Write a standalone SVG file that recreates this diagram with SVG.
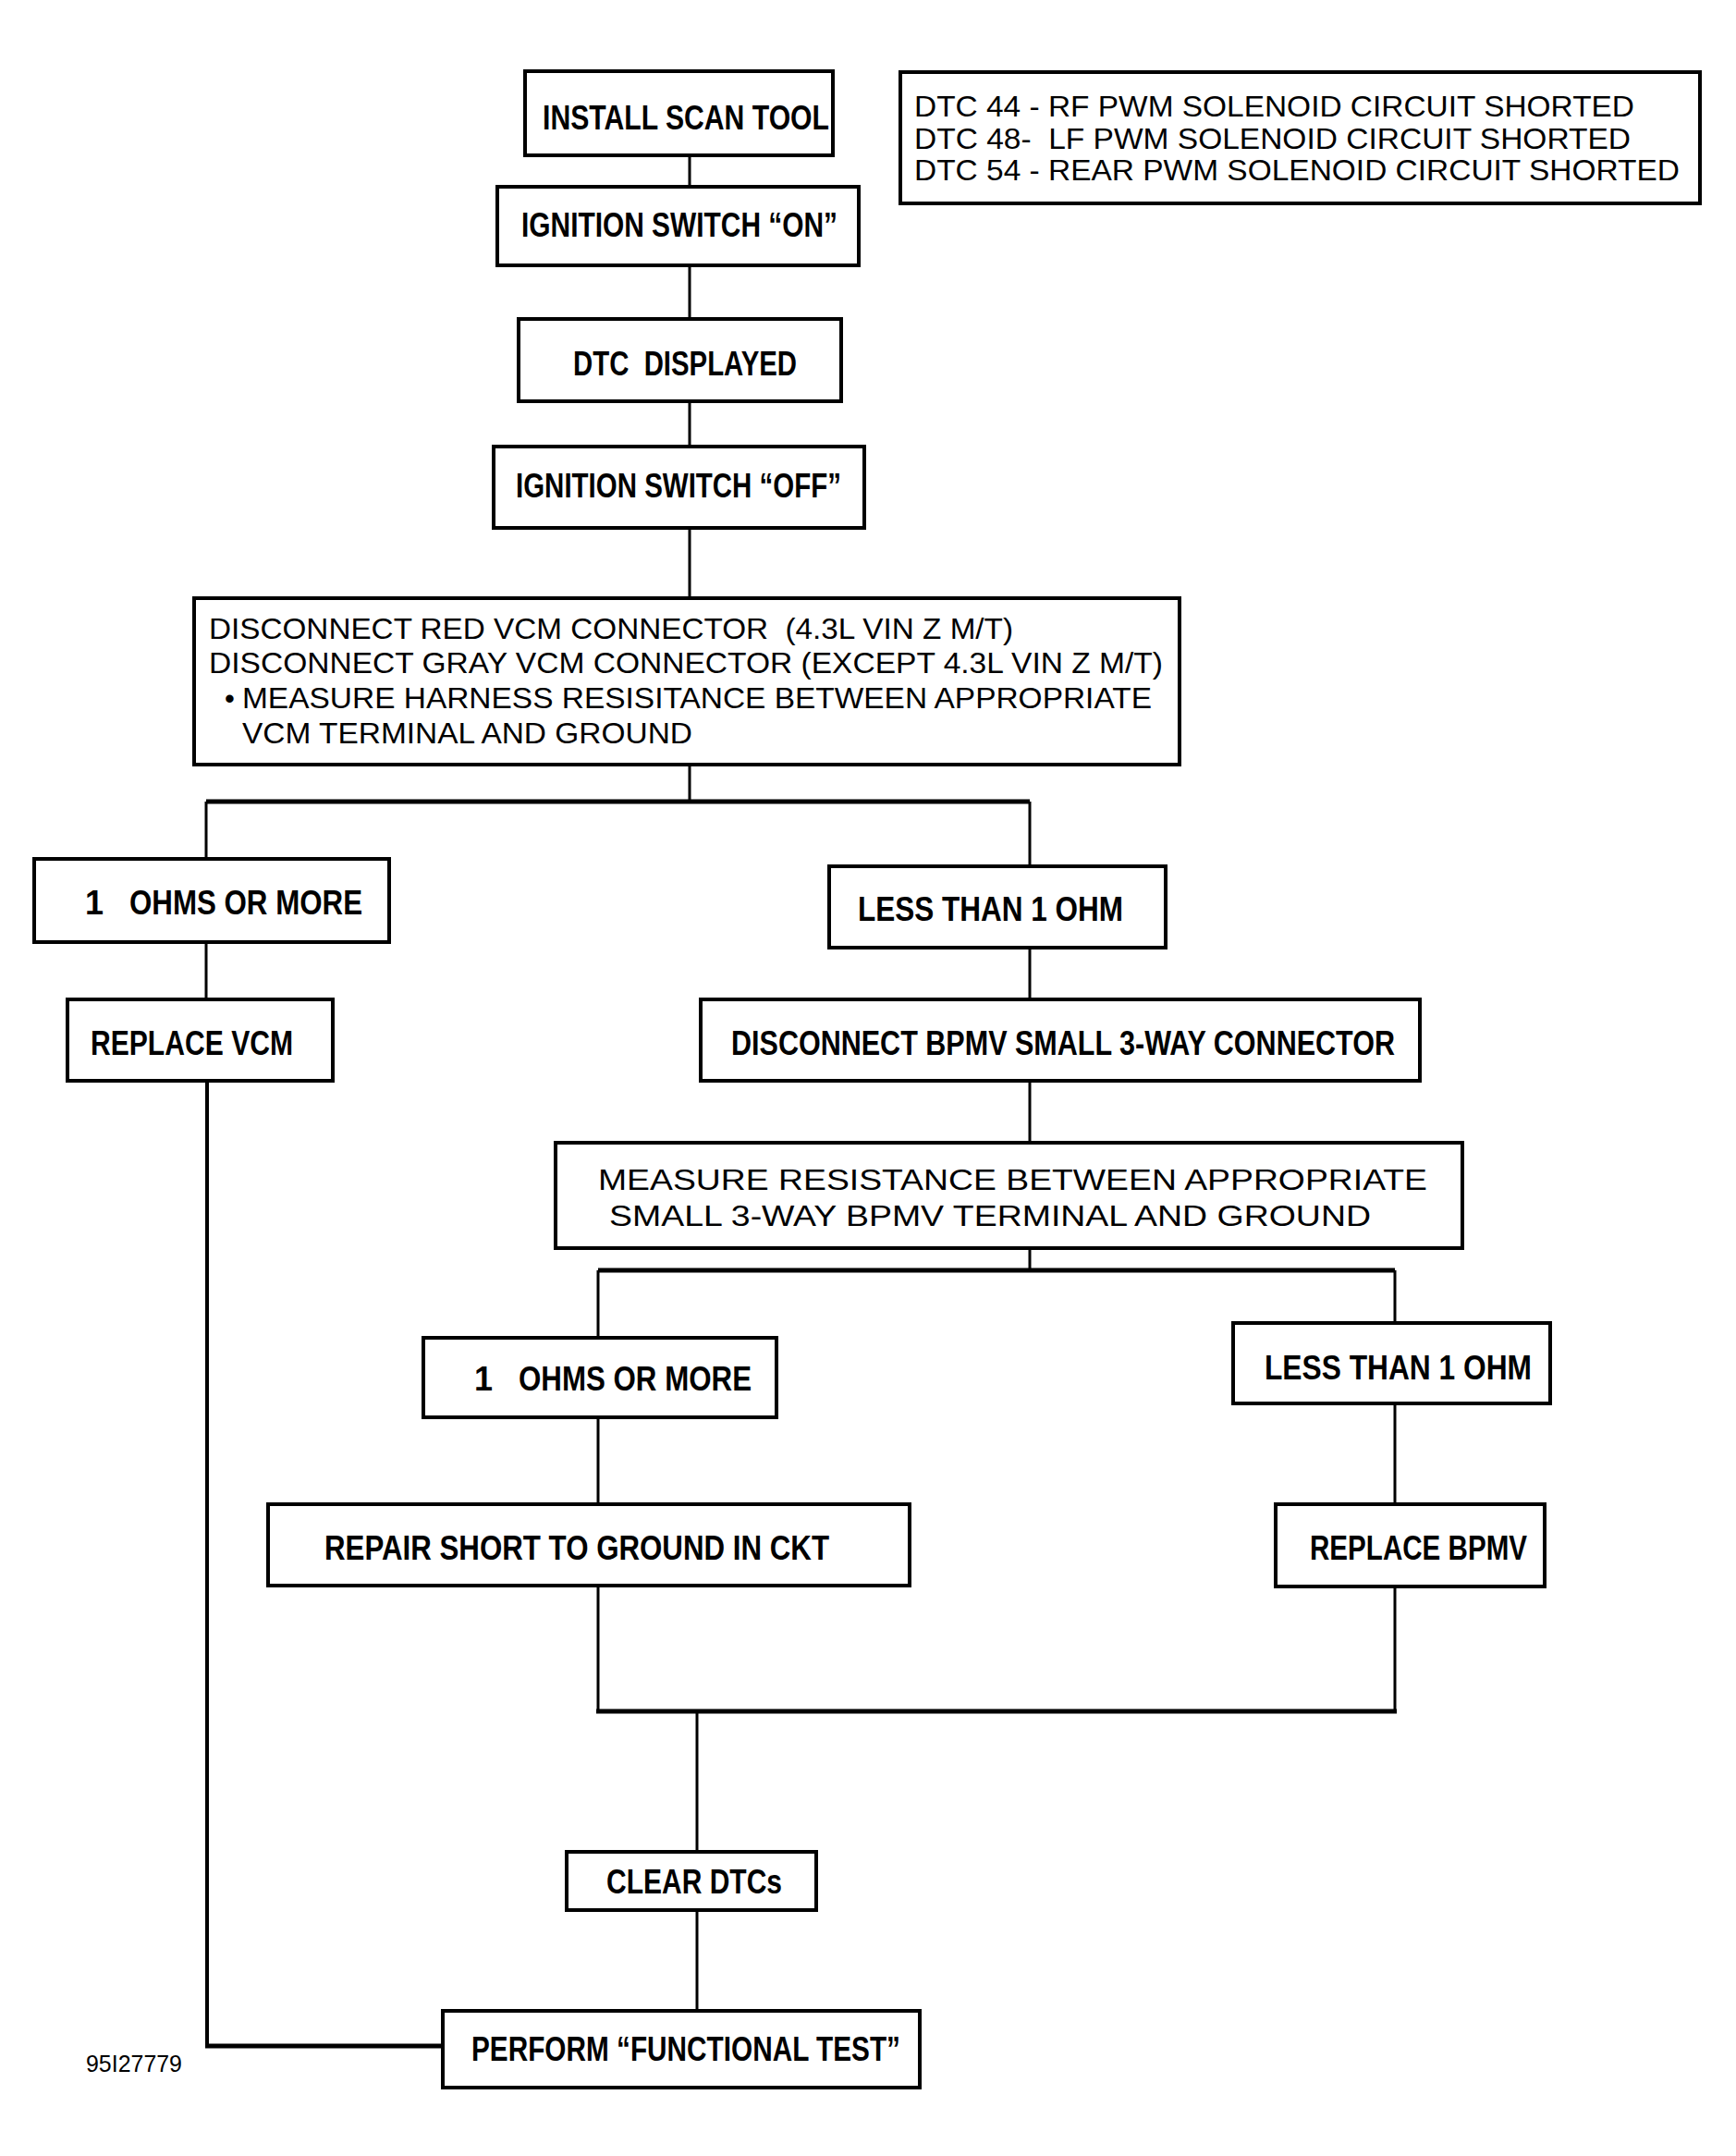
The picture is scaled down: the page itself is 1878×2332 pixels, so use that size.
<svg xmlns="http://www.w3.org/2000/svg" width="1878" height="2332" viewBox="0 0 1878 2332">
<style>
text{white-space:pre}
.box{fill:#fff;stroke:#000;stroke-width:4}
.b{font-family:"Liberation Sans",Arial,sans-serif;font-weight:bold;font-size:36px;fill:#000}
.n{font-family:"Liberation Sans",Arial,sans-serif;font-size:31px;fill:#000}
.w{stroke:#000;stroke-width:3;fill:none}
.h{stroke:#000;stroke-width:5;fill:none}
</style>
<rect width="1878" height="2332" fill="#fff"/>
<g id="connectors">
<path class="w" d="M746 168V202M746 287V345M746 434V483M746 571V647M746 827V867"/>
<path class="h" d="M223 867H1114"/>
<path class="w" d="M223 867V929M223 1019V1081"/>
<path class="w" d="M224 1169V2213" style="stroke-width:4"/>
<path class="h" d="M222 2213H479"/>
<path class="w" d="M1114 867V937M1114 1025V1081M1114 1169V1236M1114 1350V1374"/>
<path class="h" d="M647 1374H1509"/>
<path class="w" d="M647 1374V1447M647 1533V1627M647 1715V1851"/>
<path class="w" d="M1509 1374V1431M1509 1518V1627M1509 1716V1851"/>
<path class="h" d="M645 1851H1511"/>
<path class="w" d="M754 1851V2003M754 2066V2174"/>
</g>
<g id="dtc-list">
<rect class="box" x="974" y="78" width="865" height="142"/>
<text class="n" x="989" y="126" textLength="779" lengthAdjust="spacingAndGlyphs">DTC 44 - RF PWM SOLENOID CIRCUIT SHORTED</text>
<text class="n" x="989" y="161" textLength="775" lengthAdjust="spacingAndGlyphs">DTC 48-  LF PWM SOLENOID CIRCUIT SHORTED</text>
<text class="n" x="989" y="195" textLength="828" lengthAdjust="spacingAndGlyphs">DTC 54 - REAR PWM SOLENOID CIRCUIT SHORTED</text>
</g>
<g id="install-scan-tool">
<rect class="box" x="568" y="77" width="333" height="91"/>
<text class="b" x="587" y="140" textLength="310" lengthAdjust="spacingAndGlyphs">INSTALL SCAN TOOL</text>
</g>
<g id="ignition-on">
<rect class="box" x="538" y="202" width="391" height="85"/>
<text class="b" x="564" y="256" textLength="342" lengthAdjust="spacingAndGlyphs">IGNITION SWITCH “ON”</text>
</g>
<g id="dtc-displayed">
<rect class="box" x="561" y="345" width="349" height="89"/>
<text class="b" x="620" y="406" textLength="242" lengthAdjust="spacingAndGlyphs">DTC  DISPLAYED</text>
</g>
<g id="ignition-off">
<rect class="box" x="534" y="483" width="401" height="88"/>
<text class="b" x="558" y="538" textLength="352" lengthAdjust="spacingAndGlyphs">IGNITION SWITCH “OFF”</text>
</g>
<g id="disconnect-vcm">
<rect class="box" x="210" y="647" width="1066" height="180"/>
<text class="n" x="226" y="691" textLength="870" lengthAdjust="spacingAndGlyphs">DISCONNECT RED VCM CONNECTOR  (4.3L VIN Z M/T)</text>
<text class="n" x="226" y="728" textLength="1032" lengthAdjust="spacingAndGlyphs">DISCONNECT GRAY VCM CONNECTOR (EXCEPT 4.3L VIN Z M/T)</text>
<text class="n" x="243" y="766">•</text>
<text class="n" x="262" y="766" textLength="984" lengthAdjust="spacingAndGlyphs">MEASURE HARNESS RESISITANCE BETWEEN APPROPRIATE</text>
<text class="n" x="262" y="804" textLength="487" lengthAdjust="spacingAndGlyphs">VCM TERMINAL AND GROUND</text>
</g>
<g id="ohms-more-1">
<rect class="box" x="37" y="929" width="384" height="90"/>
<text class="b" y="989"><tspan x="92">1  </tspan><tspan x="140" textLength="252" lengthAdjust="spacingAndGlyphs">OHMS OR MORE</tspan></text>
</g>
<g id="less-than-1">
<rect class="box" x="897" y="937" width="364" height="88"/>
<text class="b" x="928" y="996" textLength="287" lengthAdjust="spacingAndGlyphs">LESS THAN 1 OHM</text>
</g>
<g id="replace-vcm">
<rect class="box" x="73" y="1081" width="287" height="88"/>
<text class="b" x="98" y="1141" textLength="219" lengthAdjust="spacingAndGlyphs">REPLACE VCM</text>
</g>
<g id="disconnect-bpmv">
<rect class="box" x="758" y="1081" width="778" height="88"/>
<text class="b" x="791" y="1141" textLength="718" lengthAdjust="spacingAndGlyphs">DISCONNECT BPMV SMALL 3-WAY CONNECTOR</text>
</g>
<g id="measure-bpmv">
<rect class="box" x="601" y="1236" width="981" height="114"/>
<text class="n" x="647" y="1287" textLength="897" lengthAdjust="spacingAndGlyphs">MEASURE RESISTANCE BETWEEN APPROPRIATE</text>
<text class="n" x="659" y="1326" textLength="824" lengthAdjust="spacingAndGlyphs">SMALL 3-WAY BPMV TERMINAL AND GROUND</text>
</g>
<g id="ohms-more-2">
<rect class="box" x="458" y="1447" width="382" height="86"/>
<text class="b" y="1504"><tspan x="513">1  </tspan><tspan x="561" textLength="252" lengthAdjust="spacingAndGlyphs">OHMS OR MORE</tspan></text>
</g>
<g id="less-than-2">
<rect class="box" x="1334" y="1431" width="343" height="87"/>
<text class="b" x="1368" y="1492" textLength="289" lengthAdjust="spacingAndGlyphs">LESS THAN 1 OHM</text>
</g>
<g id="repair-short">
<rect class="box" x="290" y="1627" width="694" height="88"/>
<text class="b" x="351" y="1687" textLength="546" lengthAdjust="spacingAndGlyphs">REPAIR SHORT TO GROUND IN CKT</text>
</g>
<g id="replace-bpmv">
<rect class="box" x="1380" y="1627" width="291" height="89"/>
<text class="b" x="1417" y="1687" textLength="235" lengthAdjust="spacingAndGlyphs">REPLACE BPMV</text>
</g>
<g id="clear-dtcs">
<rect class="box" x="613" y="2003" width="270" height="63"/>
<text class="b" x="656" y="2048" textLength="190" lengthAdjust="spacingAndGlyphs">CLEAR DTCs</text>
</g>
<g id="functional-test">
<rect class="box" x="479" y="2175" width="516" height="83"/>
<text class="b" x="510" y="2229" textLength="464" lengthAdjust="spacingAndGlyphs">PERFORM “FUNCTIONAL TEST”</text>
</g>
<text class="n" x="93" y="2241" style="font-size:25px" textLength="104" lengthAdjust="spacingAndGlyphs">95I27779</text>
</svg>
